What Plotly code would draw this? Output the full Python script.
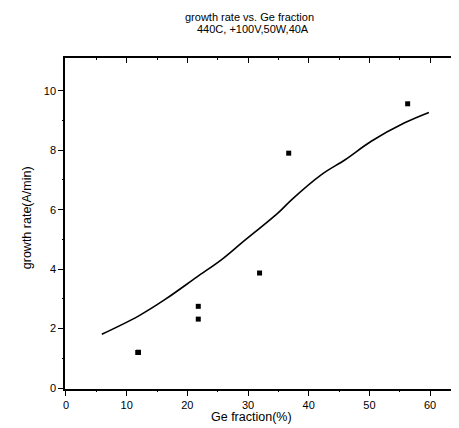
import plotly.graph_objects as go

# Data
ge_frac_pts = [11.9, 21.8, 21.8, 31.9, 36.7, 56.3]
growth_pts = [1.2, 2.75, 2.32, 3.87, 7.9, 9.56]

fit_x = [5.9, 12.0, 16.4, 21.6, 25.7, 29.0, 35.0, 37.2, 42.1, 46.0, 50.3, 55.8, 59.8]
fit_y = [1.81, 2.43, 2.99, 3.74, 4.33, 4.89, 5.9, 6.34, 7.18, 7.68, 8.3, 8.92, 9.27]

x_ticks = [0, 10, 20, 30, 40, 50, 60]
x_minor = [5, 15, 25, 35, 45, 55]
y_ticks = [0, 2, 4, 6, 8, 10]
y_minor = [1, 3, 5, 7, 9]
x_range = [-0.16, 64.43]
y_range = [-0.03, 11.1]

title_lines = ["growth rate vs. Ge fraction", "440C, +100V,50W,40A"]
x_title = "Ge fraction(%)"
y_title = "growth rate(A/min)"

OFF = 8  # browser body margin
W, H = 459 - OFF, 428 - OFF
# plot area in window pixels
L, R, T, B = 65, 459, 58, 389

def px(x):
    return (x - L) / (R - L)

def py(y):
    return (B - y) / (B - T)

font = "Liberation Sans, Arial, sans-serif"

fig = go.Figure()
fig.add_trace(go.Scatter(x=fit_x, y=fit_y, mode="lines",
                         line=dict(color="black", width=1.6, shape="spline"),
                         showlegend=False, hoverinfo="skip"))
fig.add_trace(go.Scatter(x=ge_frac_pts, y=growth_pts, mode="markers",
                         marker=dict(symbol="square", size=5, color="black"),
                         showlegend=False))
# traces on the extra tick axes so that they are drawn
for n in (2, 3, 4):
    fig.add_trace(go.Scatter(x=ge_frac_pts[:1], y=growth_pts[:1],
                             xaxis=f"x{n}", yaxis=f"y{n}", mode="markers",
                             marker=dict(symbol="square", size=5, color="black"),
                             showlegend=False, hoverinfo="skip"))

main = dict(showline=True, mirror=True, ticks="outside", showgrid=False,
            zeroline=False, linecolor="black", linewidth=1.5, ticklen=5,
            tickwidth=1.2, tickcolor="black", tickmode="array",
            tickfont=dict(family=font, size=11, color="black"))

def extra(rng, vals, over, side, direction, length):
    return dict(range=rng, tickmode="array", tickvals=vals, overlaying=over,
                side=side, showline=False, ticks=direction, ticklen=length,
                tickwidth=1.2, tickcolor="black", showticklabels=False,
                showgrid=False, zeroline=False)

fig.update_layout(
    width=W, height=H,
    margin=dict(l=L - OFF, r=W - (R - OFF), t=T - OFF, b=H - (B - OFF), pad=0),
    paper_bgcolor="white", plot_bgcolor="white",
    xaxis=dict(range=x_range, tickvals=x_ticks, **main),
    yaxis=dict(range=y_range, tickvals=y_ticks, **main),
    # minor ticks, bottom / left, outside
    xaxis2=extra(x_range, x_minor, "x", "bottom", "outside", 2),
    yaxis2=extra(y_range, y_minor, "y", "left", "outside", 2),
    # major ticks, top / right, inside
    xaxis3=extra(x_range, x_ticks, "x", "top", "inside", 5),
    yaxis3=extra(y_range, y_ticks, "y", "right", "inside", 5),
    # minor ticks, top / right, inside
    xaxis4=extra(x_range, x_minor, "x", "top", "inside", 2),
    yaxis4=extra(y_range, y_minor, "y", "right", "inside", 2),
)

ann = []
ann.append(dict(text=title_lines[0], x=px(250), y=py(17)))
ann.append(dict(text=title_lines[1], x=px(254), y=py(29)))
ann.append(dict(text=x_title, x=px(252), y=py(417), size=12.5))
ann.append(dict(text=y_title, x=px(27), y=py(218), size=12.5, angle=-90))
for a in ann:
    fig.add_annotation(text=a["text"], x=a["x"], y=a["y"], xref="paper", yref="paper",
                       showarrow=False, xanchor="center", yanchor="middle",
                       textangle=a.get("angle", 0),
                       font=dict(family=font, size=a.get("size", 11), color="black"))

fig.write_html("out.html")
